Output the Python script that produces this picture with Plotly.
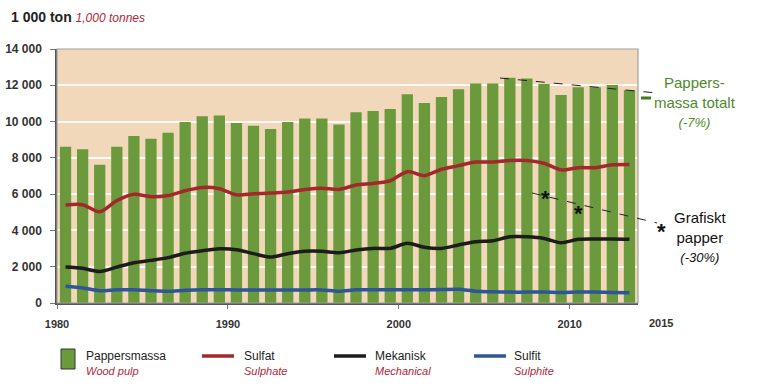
import plotly.graph_objects as go
import numpy as np

years = list(range(1980, 2014))
pappersmassa = [8610, 8470, 7620, 8610, 9200, 9050, 9380, 9970, 10300, 10340,
                9920, 9770, 9590, 9970, 10170, 10170, 9840, 10510, 10580, 10690,
                11500, 11020, 11350, 11780, 12100, 12100, 12420, 12380, 12070, 11460,
                11890, 11890, 12010, 11720]
sulfat = [5400, 5420, 5030, 5640, 5990, 5860, 5920, 6190, 6370, 6300,
          5960, 6020, 6060, 6120, 6260, 6330, 6260, 6500, 6590, 6740,
          7240, 7020, 7370, 7570, 7770, 7770, 7860, 7860, 7700, 7340,
          7460, 7460, 7620, 7640]
mekanisk = [1980, 1910, 1740, 1980, 2220, 2350, 2500, 2740, 2880, 2990,
            2940, 2720, 2530, 2720, 2850, 2850, 2770, 2920, 3010, 3010,
            3290, 3070, 3010, 3200, 3380, 3430, 3650, 3650, 3560, 3320,
            3510, 3530, 3530, 3510]
sulfit = [920, 830, 680, 730, 730, 680, 650, 700, 730, 730,
          720, 720, 720, 720, 720, 720, 650, 730, 730, 730,
          730, 730, 740, 760, 650, 620, 600, 600, 600, 580,
          600, 600, 580, 560]

y_ticks = [0, 2000, 4000, 6000, 8000, 10000, 12000, 14000]
y_tick_text = ["0", "2 000", "4 000", "6 000", "8 000", "10 000", "12 000", "14 000"]
x_ticks = [1980, 1990, 2000, 2010]

series_sv = ["Pappersmassa", "Sulfat", "Mekanisk", "Sulfit"]
series_en = ["Wood pulp", "Sulphate", "Mechanical", "Sulphite"]

x_pos = np.array(years) + 0.5

GREEN = "#6A9A3B"
RED = "#A3282C"
BLACK = "#1C1C1C"
BLUE = "#2E5597"
SUBRED = "#B0283A"
FONT = "Liberation Sans, Arial"

fig = go.Figure()
fig.add_trace(go.Bar(x=x_pos, y=pappersmassa, name=series_sv[0],
                     marker=dict(color=GREEN, line=dict(width=0)), width=0.66))
for vals, col, nm in [(sulfat, RED, series_sv[1]), (mekanisk, BLACK, series_sv[2]), (sulfit, BLUE, series_sv[3])]:
    fig.add_trace(go.Scatter(x=x_pos, y=vals, name=nm, mode="lines",
                             line=dict(color=col, width=3.5, shape="spline", smoothing=0.8)))

L, R, T, B = 57, 123, 49, 88
W, H = 761, 391
PW, PH = W - L - R, H - T - B

def px(x):
    return (x - L) / PW

def py(y):
    return (H - B - y) / PH

shapes = [
    dict(type="rect", xref="paper", yref="paper", x0=0, y0=0, x1=1, y1=1,
         line=dict(color="#A0A0A0", width=1.2), layer="above"),
    dict(type="line", xref="paper", yref="paper", x0=px(500), y0=py(78), x1=px(657), y1=py(93),
         line=dict(color="#222", width=1, dash="dash")),
    dict(type="line", xref="paper", yref="paper", x0=px(532), y0=py(193), x1=px(657), y1=py(223),
         line=dict(color="#222", width=1, dash="dash")),
    dict(type="line", xref="paper", yref="paper", x0=px(641), y0=py(98), x1=px(651), y1=py(98),
         line=dict(color="#3F7A1E", width=3)),
]

annotations = [
    dict(xref="paper", yref="paper", x=px(9), y=py(17), xanchor="left", yanchor="middle",
         showarrow=False,
         text=f"<b>1 000 ton</b> <i><span style='color:{SUBRED};font-size:12px'>1,000 tonnes</span></i>",
         font=dict(family=FONT, size=14, color="#222")),
    dict(xref="paper", yref="paper", x=px(661), y=py(323), xanchor="center", yanchor="middle",
         showarrow=False, text="<b>2015</b>", font=dict(family=FONT, size=11, color="#333")),
    dict(xref="paper", yref="paper", x=px(695), y=py(102), xanchor="center", yanchor="middle",
         showarrow=False, text="Pappers-<br>massa totalt<br><i><span style='font-size:13px'>(-7%)</span></i>",
         font=dict(family=FONT, size=15, color="#4E8A2A")),
    dict(xref="paper", yref="paper", x=px(700), y=py(237), xanchor="center", yanchor="middle",
         showarrow=False, text="Grafiskt<br>papper<br><i><span style='font-size:13px'>(-30%)</span></i>",
         font=dict(family=FONT, size=15, color="#111")),
]
for sx, sy in [(545, 195), (578, 210), (661, 228)]:
    annotations.append(dict(xref="paper", yref="paper", x=px(sx), y=py(sy), xanchor="center",
                            yanchor="middle", showarrow=False, text="<b>*</b>", yshift=-3,
                            font=dict(family=FONT, size=22, color="#111")))

# manual legend
leg_x = [61, 202, 334, 474]
leg_text_x = [84, 242, 373, 512]
leg_cols = [GREEN, RED, BLACK, BLUE]
for i in range(4):
    if i == 0:
        shapes.append(dict(type="rect", xref="paper", yref="paper", x0=px(leg_x[i]), x1=px(leg_x[i] + 14),
                           y0=py(369), y1=py(349), fillcolor=GREEN, line=dict(color="#333", width=1)))
    else:
        shapes.append(dict(type="line", xref="paper", yref="paper", x0=px(leg_x[i]), x1=px(leg_x[i] + 32),
                           y0=py(356), y1=py(356), line=dict(color=leg_cols[i], width=3.5)))
    annotations.append(dict(xref="paper", yref="paper", x=px(leg_text_x[i]), y=py(356), xanchor="left",
                            yanchor="middle", showarrow=False, text=series_sv[i],
                            font=dict(family=FONT, size=12, color="#222")))
    annotations.append(dict(xref="paper", yref="paper", x=px(leg_text_x[i]), y=py(371), xanchor="left",
                            yanchor="middle", showarrow=False, text=f"<i>{series_en[i]}</i>",
                            font=dict(family=FONT, size=11, color=SUBRED)))

fig.update_layout(
    width=W, height=H,
    margin=dict(l=L, r=R, t=T, b=B, pad=0),
    paper_bgcolor="white",
    plot_bgcolor="#F2D8BA",
    bargap=0.34,
    showlegend=False,
    shapes=shapes,
    annotations=annotations,
    xaxis=dict(range=[1980, 2014], tickvals=x_ticks, ticks="outside", ticklen=4,
               tickcolor="#777", showgrid=False, showline=True, linecolor="#555", linewidth=1.5,
               tickfont=dict(family=FONT, size=11, color="#333", weight="bold"), automargin=False,
               ticklabelstandoff=6, zeroline=False),
    yaxis=dict(range=[0, 14000], tickvals=y_ticks, ticktext=y_tick_text, ticks="outside",
               ticklen=5, tickcolor="#777", showgrid=True, gridcolor="rgba(255,255,255,0.85)",
               gridwidth=1.5, showline=True, linecolor="#555", linewidth=1.5, automargin=False,
               tickfont=dict(family=FONT, size=12, color="#333", weight="bold"),
               zeroline=False, ticklabelstandoff=6),
    font=dict(family=FONT),
)

fig.write_html("out.html", config={"displayModeBar": False},
               post_script="document.body.style.margin='0';document.body.style.overflow='hidden';")
